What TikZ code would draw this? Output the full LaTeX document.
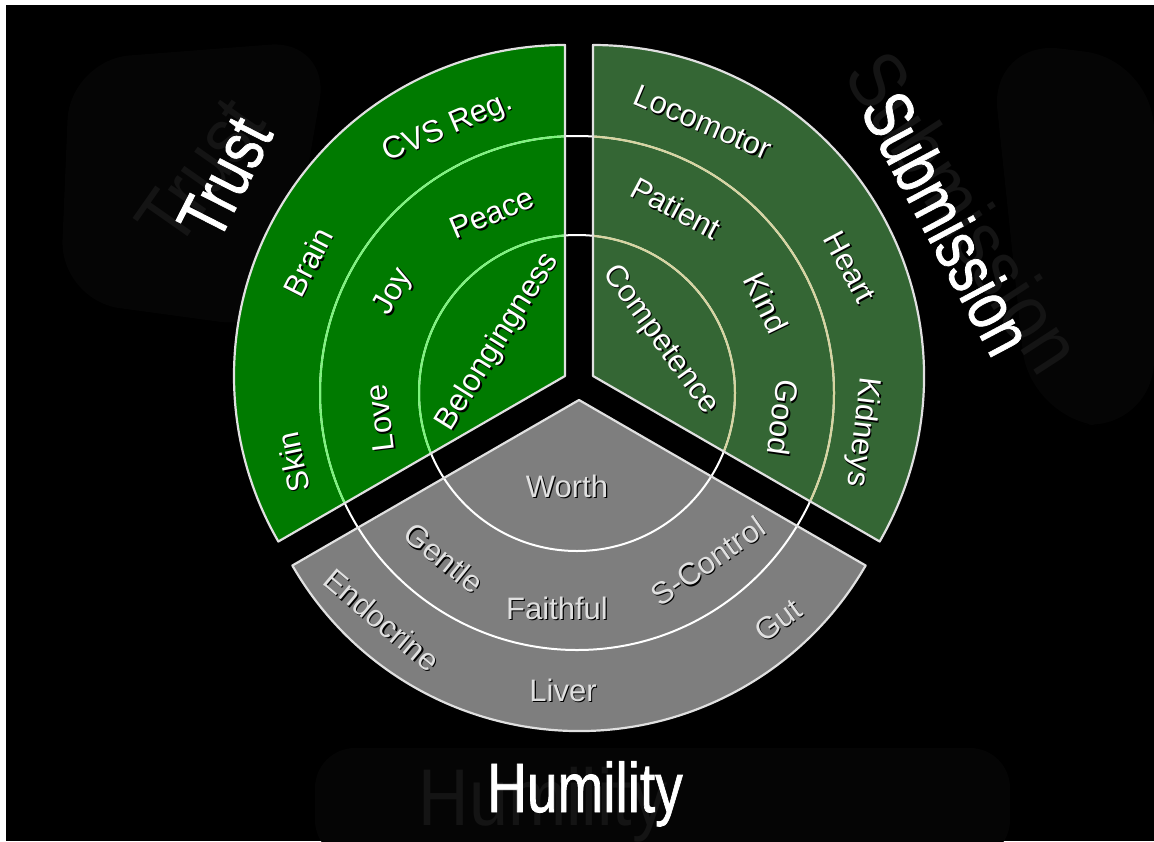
\documentclass[tikz,border=0pt]{standalone}
\usepackage{fontspec}
\setmainfont{Liberation Sans}
\newfontfamily\titlefont[FakeBold=1.2]{Liberation Sans}

\definecolor{trustgreen}{RGB}{0,122,0}
\definecolor{subgreen}{RGB}{52,102,52}
\definecolor{humgray}{RGB}{126,126,126}
\definecolor{ringgreen}{RGB}{125,245,125}
\definecolor{ringkhaki}{RGB}{215,212,160}
\definecolor{ghost}{RGB}{20,20,20}
\definecolor{blob}{RGB}{5,5,5}

\tikzset{
  sector/.style={draw=white!88!black,line width=2.2pt,line join=round},
  ring/.style={line width=2pt},
  lbl/.style={text=white,font=\fontsize{31}{31}\selectfont,inner sep=0pt},
  graylbl/.style={lbl,text=white!88!black},
  lblshadow/.style={lbl,text=black},
  bigtitle/.style={text=white,font=\titlefont\fontsize{55}{55}\selectfont,inner sep=0pt},
  ghosttitle/.style={text=ghost,font=\fontsize{70}{70}\selectfont,inner sep=0pt}
}

% the three pieces of the pie, pulled apart
\def\trustpath{(565,-376) -- ++(90:331) arc[start angle=90,end angle=210,radius=331] -- cycle}
\def\subpath{(593,-376) -- ++(-30:331) arc[start angle=-30,end angle=90,radius=331] -- cycle}
\def\humpath{(579,-400) -- ++(210:331) arc[start angle=210,end angle=330,radius=331] -- cycle}

\begin{document}
\begin{tikzpicture}[x=1pt,y=1pt]

\useasboundingbox (0,0) rectangle (1154,-841);
\fill[white] (0,0) rectangle (1154,-841);
\fill[black] (6,-5) rectangle (1154,-841);

% faint shapes behind
\fill[blob,rounded corners=60pt] (70,-60) -- (330,-40) -- (280,-330) -- (60,-300) -- cycle;
\fill[blob,rounded corners=70pt] (990,-40) -- (1154,-60) -- (1154,-430) -- (1030,-420) -- cycle;
\fill[blob,rounded corners=40pt] (315,-748) rectangle (1010,-860);

% ghost titles
\node[ghosttitle,rotate=55] (trust-g) at (200,-172) {\scalebox{1}[1.15]{Trust}};
\node[ghosttitle,rotate=-57] (submission-g) at (965,-212) {\scalebox{1}[1.15]{Submission}};
\node[ghosttitle,anchor=base] (humility-g) at (543,-825) {\scalebox{1}[1.15]{Humility}};

% titles
\node[bigtitle,rotate=63] (trust) at (225,-178) {\scalebox{1}[1.27]{Trust}};
\node[bigtitle,rotate=-62] (submission) at (948,-223) {\scalebox{1}[1.27]{Submission}};
\node[bigtitle,anchor=base] (humility) at (585,-812) {\scalebox{1}[1.27]{Humility}};

% sectors
\fill[trustgreen] \trustpath;
\fill[subgreen] \subpath;
\fill[humgray] \humpath;

% rings
\foreach \r in {158,257}{
  \draw[ring,white] (577,-393) circle[radius=\r];
}
\begin{scope}
\clip \trustpath;
\foreach \r in {158,257}{
  \draw[ring,ringgreen] (577,-393) circle[radius=\r];
}
\end{scope}
\begin{scope}
\clip \subpath;
\foreach \r in {158,257}{
  \draw[ring,ringkhaki] (577,-393) circle[radius=\r];
}
\end{scope}

\draw[sector] \trustpath;
\draw[sector] \subpath;
\draw[sector] \humpath;

% labels in the two green pieces
\foreach \x/\y/\a/\t/\n in {448/128/23/CVS Reg./cvs, 308/262/63/Brain/brain,
    293/462/102/Skin/skin, 492/213/23/Peace/peace, 394/292/61/Joy/joy,
    380/418/97/Love/love, 498/342/58/Belongingness/belong,
    703/122/-23/Locomotor/loco, 850/267/-62/Heart/heart, 862/432/-97/Kidneys/kidneys,
    676/208/-28/Patient/patient, 766/303/-64/Kind/kind, 783/418/-98/Good/good,
    660/340/-54/Competence/comp}{
  \node[lblshadow,rotate=\a] (\n-s) at (\x+1.5,-\y-1.5) {\t};
  \node[lbl,rotate=\a] (\n) at (\x,-\y) {\t};
}

% labels in the gray piece
\foreach \x/\y/\a/\t/\n in {567/486/0/Worth/worth, 444/558/-39/Gentle/gentle,
    557/608/0/Faithful/faith, 708/561/35/S-Control/scontrol,
    382/620/-40/Endocrine/endo, 563/690/0/Liver/liver, 778/620/36/Gut/gut}{
  \node[lblshadow,rotate=\a] (\n-s) at (\x+1.2,-\y-1.2) {\t};
  \node[graylbl,rotate=\a] (\n) at (\x,-\y) {\t};
}

\end{tikzpicture}
\end{document}
